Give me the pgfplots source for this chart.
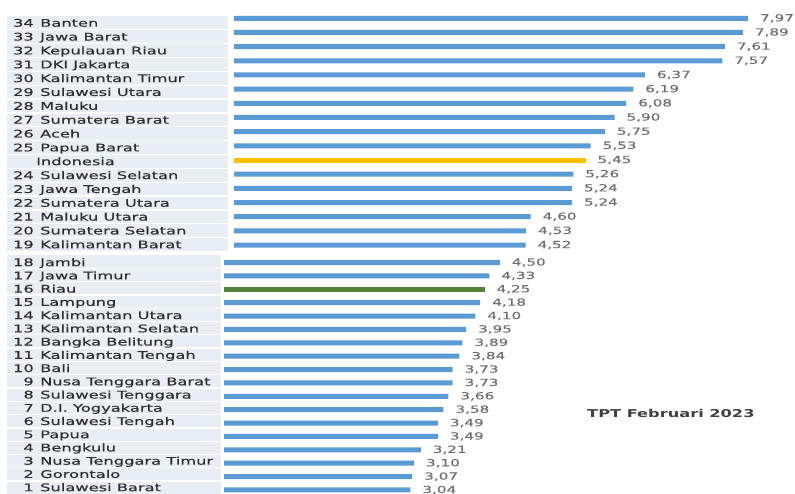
\documentclass[border=0pt]{standalone}
\usepackage{pgfplots}
\pgfplotsset{compat=1.18}
\usepackage{fontspec}
\setmainfont{DejaVu Sans}
\newfontfamily\labfont[FakeStretch=1.55,FakeBold=0.35]{DejaVu Sans}
\newfontfamily\valfont[FakeStretch=1.55,FakeBold=0.2]{DejaVu Sans}
\newfontfamily\titfont[FakeStretch=1.5]{DejaVu Sans}
\definecolor{barblue}{HTML}{5B9BD5}
\definecolor{bargold}{HTML}{FFC000}
\definecolor{bargreen}{HTML}{538135}
\definecolor{panel}{HTML}{E9EDF4}
\definecolor{labtext}{HTML}{2E2E2E}
\definecolor{valtext}{HTML}{6E6E6E}
\newcommand{\lab}{\labfont\fontsize{10.5}{12}\selectfont\color{labtext}}
\newcommand{\val}{\valfont\fontsize{9.8}{11}\selectfont}
\pgfplotsset{
  barstyle/.style={
    scale only axis, hide axis, clip=false, enlargelimits=false,
    y dir=reverse, xbar, bar width=5pt, bar shift=0pt,
    /pgf/number format/assume math mode=true,
    point meta=x,
    nodes near coords={\pgfmathprintnumber[fixed,fixed zerofill,precision=2,use comma]{\pgfplotspointmeta}},
    every node near coord/.append style={font=\val, text=valtext, anchor=west, xshift=8.5pt},
  }
}
\begin{document}
\begin{tikzpicture}[x=1pt,y=1pt]
% ---- label panels ----
\fill[panel] (7,477) rectangle (228,241.5);
\foreach \i in {1,...,16} \draw[white, line width=1.3pt] (7,{477-13.85*\i}) -- (228,{477-13.85*\i});
\fill[panel] (7,238) rectangle (221,-2);
\foreach \i in {1,...,17} \draw[white, line width=1.3pt] (7,{238-13.3*\i}) -- (221,{238-13.3*\i});
% ---- top labels ----
\foreach \n/\name [count=\i from 0] in {34/Banten,33/Jawa Barat,32/Kepulauan Riau,31/DKI Jakarta,30/Kalimantan Timur,29/Sulawesi Utara,28/Maluku,27/Sumatera Barat,26/Aceh,25/Papua Barat}{
  \node[anchor=base east, inner sep=0pt, font=\lab] at (34,{493-22.9-13.85*\i-3.8}) {\n};
  \node[anchor=base west, inner sep=0pt, font=\lab] at (40,{493-22.9-13.85*\i-3.8}) {\name};
}
\node[anchor=base west, inner sep=0pt, font=\lab] at (36,{493-22.9-13.85*10-3.8}) {Indonesia};
\foreach \n/\name [count=\i from 11] in {24/Sulawesi Selatan,23/Jawa Tengah,22/Sumatera Utara,21/Maluku Utara,20/Sumatera Selatan,19/Kalimantan Barat}{
  \node[anchor=base east, inner sep=0pt, font=\lab] at (34,{493-22.9-13.85*\i-3.8}) {\n};
  \node[anchor=base west, inner sep=0pt, font=\lab] at (40,{493-22.9-13.85*\i-3.8}) {\name};
}
% ---- bottom labels ----
\foreach \n/\name [count=\i from 0] in {18/Jambi,17/Jawa Timur,16/Riau,15/Lampung,14/Kalimantan Utara,13/Kalimantan Selatan,12/Bangka Belitung,11/Kalimantan Tengah,10/Bali,9/Nusa Tenggara Barat,8/Sulawesi Tenggara,7/D.I. Yogyakarta,6/Sulawesi Tengah,5/Papua,4/Bengkulu,3/Nusa Tenggara Timur,2/Gorontalo,1/Sulawesi Barat}{
  \node[anchor=base east, inner sep=0pt, font=\lab] at (34,{493-262.3-13.24*\i-3.8}) {\n};
  \node[anchor=base west, inner sep=0pt, font=\lab] at (40,{493-262.3-13.24*\i-3.8}) {\name};
}
% ---- top bars ----
\begin{axis}[barstyle, at={(234pt,474.7pt)}, anchor=north west,
  x=64.5pt, y=14.17pt, xmin=0, xmax=8, ymin=0, ymax=16]
\addplot[draw=none, fill=barblue] coordinates {
  (7.97,0) (7.89,1) (7.61,2) (7.57,3) (6.37,4) (6.19,5) (6.08,6) (5.90,7)
  (5.75,8) (5.53,9) (5.26,11) (5.24,12) (5.24,13) (4.60,14) (4.53,15) (4.52,16)};
\addplot[draw=none, fill=bargold] coordinates {(5.45,10)};
\end{axis}
% ---- bottom bars ----
\begin{axis}[barstyle, at={(224pt,230.5pt)}, anchor=north west,
  x=61.3pt, y=13.38pt, xmin=0, xmax=8, ymin=0, ymax=17]
\addplot[draw=none, fill=barblue] coordinates {
  (4.50,0) (4.33,1) (4.18,3) (4.10,4) (3.95,5) (3.89,6) (3.84,7) (3.73,8)
  (3.73,9) (3.66,10) (3.58,11) (3.49,12) (3.49,13) (3.21,14) (3.10,15) (3.07,16) (3.04,17)};
\addplot[draw=none, fill=bargreen] coordinates {(4.25,2)};
\end{axis}
% ---- annotation ----
\node[anchor=base west, inner sep=0pt, font=\titfont\bfseries\fontsize{10.8}{12}\selectfont, text=black!75] at (587,{493-413-4}) {TPT Februari 2023};
\pgfresetboundingbox
\useasboundingbox (0,0) rectangle (795,493);
\end{tikzpicture}
\end{document}
